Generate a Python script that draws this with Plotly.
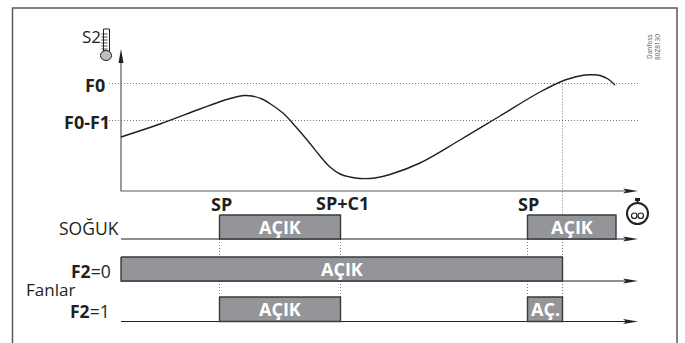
import plotly.graph_objects as go

W, H = 685, 343
INK = "#231f20"
GREY = "#939598"
EDGE = "#3a3a3c"

# Temperature curve S2
curve_t = [121, 160, 200, 225, 238, 245, 252, 262, 272, 284, 296, 308, 320, 330, 340, 350, 360, 375, 390, 420, 460, 500, 540, 565, 575, 585, 592, 600, 608, 615]
curve_s2 = [137, 124, 109, 100, 96.5, 95.5, 96, 99, 105, 114, 127, 141, 156, 167, 174, 177, 178.5, 178, 174.5, 163, 140, 116, 92, 80, 77, 75, 74.7, 75.5, 79, 85]

# Thresholds
level_names = ["F0", "F0-F1"]
level_values = [83.5, 120.5]
level_start = 109
level_end = 639

# Axes
axis_x0 = 121
axis_bottom = 191
axis_top = 50
axis_end = 638

# Switch times
sp1, c1, sp2, f0_time = 219.5, 340.5, 527.5, 562.5
lane_end = 638

# Lanes: label, top, bottom, list of on periods
lane_names = ["SOĞUK", "F2=0", "F2=1"]
lane_tops = [215, 257, 297]
lane_bottoms = [239, 281, 321.5]
lane_bars = [[(sp1, c1), (sp2, 616)], [(axis_x0, f0_time)], [(sp1, c1), (sp2, f0_time)]]
lane_bar_labels = [["AÇIK", "AÇIK"], ["AÇIK"], ["AÇIK", "AÇ."]]

fig = go.Figure()


def line(xs, ys, color=INK, width=1.0, dash="solid", shape="linear"):
    fig.add_trace(go.Scatter(x=xs, y=ys, mode="lines", hoverinfo="skip",
                             line=dict(color=color, width=width, dash=dash, shape=shape)))


def poly(xs, ys, fill=INK, edge=None, width=0):
    fig.add_trace(go.Scatter(x=xs + xs[:1], y=ys + ys[:1], mode="lines", fill="toself", fillcolor=fill,
                             hoverinfo="skip", line=dict(color=edge or fill, width=width)))


def text(x, y, s, size=14, color=INK, bold=False, anchor="center", angle=0):
    fig.add_annotation(x=x, y=y, text=f"<b>{s}</b>" if bold else s, showarrow=False, xanchor=anchor,
                       yanchor="middle", textangle=angle,
                       font=dict(family="Open Sans", size=size, color=color))


def right_arrow(x, y):
    poly([x - 15, x, x - 15, x - 12], [y - 2.5, y, y + 2.5, y], fill="#231f20")


# Frame
line([12.5, 12.5, 677, 677], [343, 8, 8, 343], color="#58595b", width=1.5)

# Dotted guides
for v in level_values:
    line([level_start, level_end], [v, v], color="#58595b", width=0.8, dash="1px,2px")
for xv in [sp1, c1, sp2]:
    line([xv, xv], [239, 257], color="#58595b", width=0.8, dash="1px,2px")
    line([xv, xv], [281, 297], color="#58595b", width=0.8, dash="1px,2px")
line([f0_time, f0_time], [83.5, 215], color="#58595b", width=0.8, dash="1px,2px")
line([f0_time, f0_time], [239, 257], color="#58595b", width=0.8, dash="1px,2px")
line([f0_time, f0_time], [281, 297], color="#58595b", width=0.8, dash="1px,2px")

# Axes
line([axis_x0, axis_x0, axis_end - 12], [axis_top + 10, axis_bottom, axis_bottom], color="#58595b", width=1.2)
poly([axis_x0 - 2.5, axis_x0, axis_x0 + 2.5], [axis_top + 13, axis_top - 1, axis_top + 13])
right_arrow(axis_end, axis_bottom)

# Curve
line(curve_t, curve_s2, color=INK, width=1.4, shape="spline")

# Lanes
for name, top, bottom, bars, labels in zip(lane_names, lane_tops, lane_bottoms, lane_bars, lane_bar_labels):
    line([axis_x0, lane_end - 12], [bottom, bottom], color=INK, width=1.2)
    right_arrow(lane_end, bottom)
    for (a, b), lab in zip(bars, labels):
        poly([a, b, b, a], [top, top, bottom, bottom], fill=GREY, edge=EDGE, width=1.4)
        text((a + b) / 2, (top + bottom) / 2, lab, size=18, color="white", bold=True)

# Level labels
text(107, 84.5, "F0", size=18, bold=True, anchor="right")
text(111.5, 121.5, "F0-F1", size=18, bold=True, anchor="right")

# Time labels
text(221, 204, "SP", size=18, bold=True)
text(342.5, 203, "SP+C1", size=18, bold=True)
text(528.5, 204, "SP", size=18, bold=True)

# Lane labels
text(120.5, 228, "SOĞUK", size=17.5, anchor="right")
text(112.5, 270.5, "<b>F2</b>=0", size=17.5, anchor="right")
text(111.5, 311, "<b>F2</b>=1", size=17.5, anchor="right")
text(23.5, 289.5, "Fanlar", size=17, anchor="left")
text(80, 36, "S2", size=17, anchor="left")

# Reference text
text(649, 47, "Danfoss", size=6.5, color="#58595b", angle=-90)
text(657, 47, "80Z8130", size=6.5, color="#58595b", angle=-90)

# Thermometer icon
poly([103.5, 109.5, 109.5, 103.5], [29, 29, 54, 54], fill="white", edge=INK, width=1)
for yy in [34, 37, 40, 43, 46, 49]:
    line([101.5, 107.5], [yy, yy], color=INK, width=0.8)
fig.add_shape(type="circle", x0=100.5, x1=111.5, y0=50.5, y1=60.5, fillcolor="#bcbec0", line=dict(color=INK, width=1))

# Stopwatch icon
fig.add_shape(type="circle", x0=627, x1=648, y0=203, y1=224, fillcolor="white", line=dict(color=INK, width=2))
fig.add_shape(type="circle", x0=631.5, x1=637, y0=213, y1=218.5, fillcolor="white", line=dict(color=INK, width=1.2))
fig.add_shape(type="circle", x0=638, x1=643.5, y0=213, y1=218.5, fillcolor="white", line=dict(color=INK, width=1.2))
poly([635, 640, 640, 635], [198, 198, 201, 201])
line([637.5, 637.5], [201, 203], color=INK, width=2)
line([640, 645], [213, 209], color="#939598", width=0.7)

fig.update_layout(
    width=W, height=H, margin=dict(l=0, r=0, t=0, b=0), showlegend=False,
    paper_bgcolor="white", plot_bgcolor="white",
    xaxis=dict(range=[0, W], visible=False, fixedrange=True),
    yaxis=dict(range=[H, 0], visible=False, fixedrange=True),
)
fig.write_html("out.html", config={"displayModeBar": False},
               post_script="document.body.style.margin='0';document.documentElement.style.overflow='hidden';")
